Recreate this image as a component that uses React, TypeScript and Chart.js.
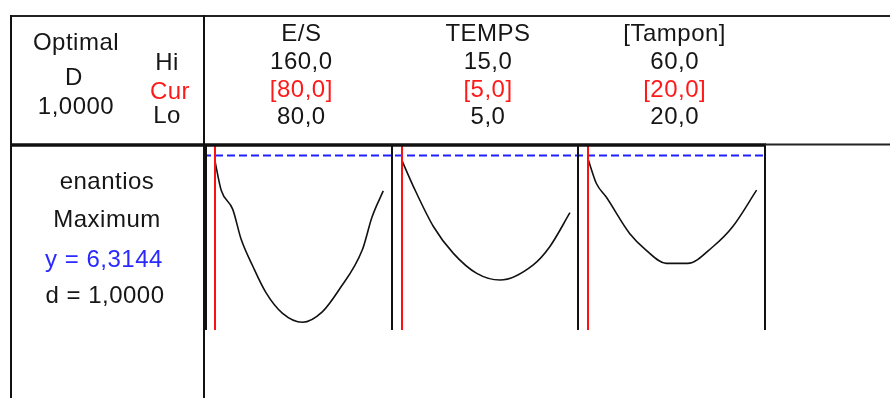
import React, { useEffect, useRef } from "react";
import { Chart, registerables } from "chart.js";

Chart.register(...registerables);

// Factors (header)
const factorNames = ["E/S", "TEMPS", "[Tampon]"];
const hiValues = [160, 15, 60];
const curValues = [80, 5, 20];
const loValues = [80, 5, 20];

// Composite desirability
const compositeD = 1.0;

// Response
const responseName = "enantios";
const responseGoal = "Maximum";
const responseY = 6.3144;
const responseD = 1.0;

// Response curves (predicted y vs factor)
const esX = [80, 82.9, 88.4, 92.4, 97.9, 104.2, 112.1, 121.6, 131, 138.9, 150, 154.7, 160];
const esY = [6.15, 5.38, 4.86, 4.05, 3.33, 2.61, 2.05, 1.81, 2.09, 2.68, 3.76, 4.66, 5.36];
const tempsX = [5, 5.7, 6.89, 8.07, 9.46, 10.85, 12.82, 13.8, 15];
const tempsY = [6.19, 5.47, 4.39, 3.67, 3.13, 2.95, 3.36, 3.85, 4.77];
const tamponX = [20, 21.9, 24.2, 29.8, 33.7, 38.5, 43.6, 49.6, 54.3, 60];
const tamponY = [6.19, 5.56, 5.2, 4.21, 3.76, 3.4, 3.4, 3.85, 4.39, 5.38];

const yMin = 1.6;
const yMax = 6.6;

const fmt1 = (v: number) => v.toFixed(1).replace(".", ",");
const fmt4 = (v: number) => v.toFixed(4).replace(".", ",");

const FONT = '"Liberation Sans", Arial, sans-serif';

const panelPlugin = {
  id: "panelPlugin",
  afterLayout(chart: any) {
    const area = chart.chartArea;
    const w = (area.right - area.left) / 3;
    ["x1", "x2", "x3"].forEach((id, i) => {
      const s = chart.scales[id];
      s.left = area.left + i * w;
      s.right = area.left + (i + 1) * w;
      s.width = w;
      s.configure();
    });
  },
  beforeDraw(chart: any) {
    const ctx = chart.ctx;
    ctx.save();
    ctx.fillStyle = "#ffffff";
    ctx.fillRect(0, 0, chart.width, chart.height);
    ctx.restore();
  },
  afterDatasetsDraw(chart: any) {
    const ctx = chart.ctx;
    const area = chart.chartArea;
    const yS = chart.scales.y;
    const xs = [chart.scales.x1, chart.scales.x2, chart.scales.x3];
    ctx.save();
    ctx.lineCap = "butt";

    const line = (x1: number, y1: number, x2: number, y2: number, lw: number, color: string) => {
      ctx.beginPath();
      ctx.strokeStyle = color;
      ctx.lineWidth = lw;
      ctx.moveTo(x1, y1);
      ctx.lineTo(x2, y2);
      ctx.stroke();
    };

    // blue dashed line at current response value
    ctx.setLineDash([8, 4]);
    const yb = yS.getPixelForValue(responseY);
    line(area.left - 2, yb, area.right, yb, 2, "#1f1fff");
    ctx.setLineDash([]);

    // red current lines
    xs.forEach((s: any, i: number) => {
      const xp = Math.round(s.getPixelForValue(curValues[i]));
      line(xp, area.top, xp, area.bottom, 2, "#ff1010");
    });

    // panel vertical lines
    const pl = [xs[0].left, xs[1].left, xs[2].left, xs[2].right];
    pl.forEach((x: number, i: number) => {
      const xx = Math.round(x) + (i === 0 ? 1 : 0);
      line(xx, area.top, xx, area.bottom, 2, "#111111");
    });

    // frame
    const L = 11;
    const B = 204;
    line(L, 16, chart.width, 16, 2, "#222222");
    line(L, 15, L, chart.height, 2, "#111111");
    line(B, 15, B, chart.height, 2, "#111111");
    line(L - 1, area.top, area.right + 1, area.top, 3.5, "#111111");
    line(area.right, area.top - 0.5, chart.width, area.top - 0.5, 2, "#222222");

    // text
    ctx.textAlign = "center";
    ctx.textBaseline = "alphabetic";
    ctx.font = `24px ${FONT}`;
    (ctx as any).letterSpacing = "0.5px";
    const txt = (s: string, x: number, y: number, color: string) => {
      ctx.fillStyle = color;
      ctx.fillText(s, x, y);
    };
    txt("Optimal", 76, 50, "#161616");
    txt("D", 74, 85, "#161616");
    txt(fmt4(compositeD), 76, 114, "#161616");
    txt("Hi", 167, 70, "#161616");
    txt("Cur", 170, 99, "#ff1a1a");
    txt("Lo", 167, 123, "#161616");

    xs.forEach((s: any, i: number) => {
      const cx = (s.left + s.right) / 2 + 3;
      txt(factorNames[i], cx, 41, "#161616");
      txt(fmt1(hiValues[i]), cx, 69, "#161616");
      txt("[" + fmt1(curValues[i]) + "]", cx, 97, "#ff1a1a");
      txt(fmt1(loValues[i]), cx, 124, "#161616");
    });

    txt(responseName, 107, 189, "#161616");
    txt(responseGoal, 107, 227, "#161616");
    txt("y = " + fmt4(responseY), 104, 267, "#2a2aff");
    txt("d = " + fmt4(responseD), 105, 303, "#161616");

    ctx.restore();
  },
};

export default function App() {
  const ref = useRef<HTMLCanvasElement | null>(null);
  useEffect(() => {
    document.body.style.margin = "0";
    if (!ref.current) return;
    const mk = (xa: number[], ya: number[]) => xa.map((x, i) => ({ x, y: ya[i] }));
    const ranges = [0, 1, 2].map((i) => {
      const r = hiValues[i] - loValues[i];
      return { min: loValues[i] - 0.06 * r, max: hiValues[i] + 0.05 * r };
    });
    const xScale = (i: number) => ({
      type: "linear" as const,
      display: false,
      position: "bottom" as const,
      min: ranges[i].min,
      max: ranges[i].max,
    });
    const ds = (data: any[], axis: string) => ({
      data,
      xAxisID: axis,
      yAxisID: "y",
      borderColor: "#111111",
      borderWidth: 1.6,
      pointRadius: 0,
      cubicInterpolationMode: "monotone",
      fill: false,
    });
    const chart = new Chart(ref.current, {
      type: "line",
      data: {
        datasets: [
          ds(mk(esX, esY), "x1"),
          ds(mk(tempsX, tempsY), "x2"),
          ds(mk(tamponX, tamponY), "x3"),
        ],
      },
      options: {
        animation: false,
        responsive: false,
        devicePixelRatio: 1,
        layout: { padding: { left: 205, right: 125, top: 145, bottom: 68 } },
        plugins: { legend: { display: false }, tooltip: { enabled: false } },
        scales: {
          x1: xScale(0),
          x2: xScale(1),
          x3: xScale(2),
          y: { type: "linear", display: false, min: yMin, max: yMax },
        },
      },
      plugins: [panelPlugin],
    } as any);
    return () => chart.destroy();
  }, []);
  return <canvas ref={ref} width={890} height={398} style={{ display: "block" }} />;
}
